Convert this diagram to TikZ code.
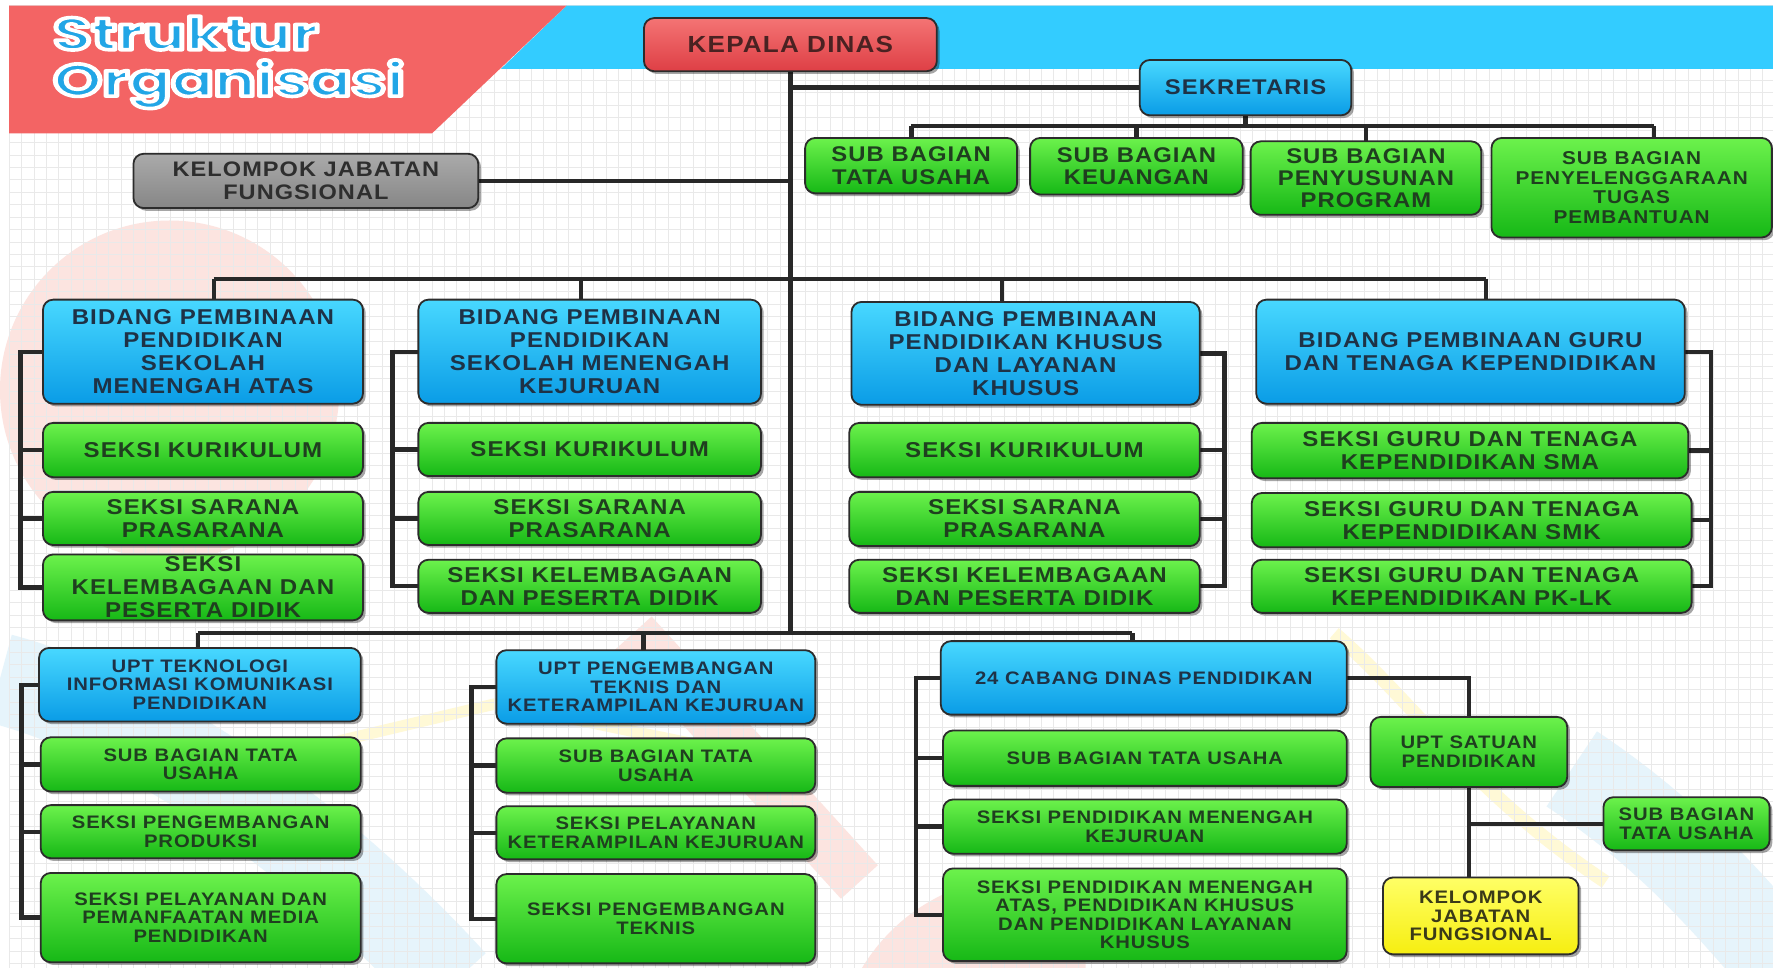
\documentclass[tikz,border=0pt]{standalone}
\usepackage{graphicx}
\usepackage{fontspec}
\setmainfont{Liberation Sans}
\newfontfamily\boxfont{Liberation Sans}[FakeStretch=1.12, LetterSpace=5]
\newfontfamily\titlefont{Poppins}
\usetikzlibrary{shadows}

\definecolor{gtop}{HTML}{6CF24C}
\definecolor{gbot}{HTML}{16B816}
\definecolor{btop}{HTML}{48D8FF}
\definecolor{bbot}{HTML}{0A9CE6}
\definecolor{rtop}{HTML}{F47474}
\definecolor{rbot}{HTML}{DE3F45}
\definecolor{ktop}{HTML}{AAAAAA}
\definecolor{kbot}{HTML}{868686}
\definecolor{ytop}{HTML}{FFFF66}
\definecolor{ybot}{HTML}{F6EE10}
\definecolor{gtext}{HTML}{1F3F1F}
\definecolor{btext}{HTML}{1E3246}
\definecolor{rtext}{HTML}{4A2222}
\definecolor{ktext}{HTML}{2E2E2E}
\definecolor{ytext}{HTML}{3A3A18}
\definecolor{edgec}{HTML}{2C2C2C}
\definecolor{wirec}{HTML}{282828}
\definecolor{banred}{HTML}{F36464}
\definecolor{banblue}{HTML}{33CCFF}
\definecolor{titleblue}{HTML}{22A6E6}
\definecolor{gridc}{HTML}{E9E9E9}
\definecolor{pinkdeco}{HTML}{FCE4E0}
\definecolor{bluedeco}{HTML}{E6F4FB}
\definecolor{yellowdeco}{HTML}{FFF9D6}

\pgfdeclarelayer{deco}
\pgfdeclarelayer{wires}
\pgfsetlayers{deco,wires,main}

\newcommand\obx[7]{%
  \pgfmathsetmacro\obw{((#4)-(#2))*0.5}%
  \pgfmathsetmacro\obh{((#5)-(#3))*0.5}%
  \node[#6, minimum width=\obw pt, minimum height=\obh pt] (#1) at ({((#2)+(#4))/2},{((#3)+(#5))/2}) {#7};%
}
\newcommand\outl[1]{\special{pdf:literal direct 2 Tr 1.6 w 1 j 1 1 1 RG}#1\special{pdf:literal direct 0 Tr}}

\begin{document}
\begin{tikzpicture}[x=0.5pt,y=-0.5pt,
  wire/.style={draw=wirec, line width=1.9pt},
  obox/.style={draw=edgec, line width=0.8pt, rounded corners=4.5pt, inner sep=1pt, outer sep=0pt, align=center,
    drop shadow={shadow xshift=1.2pt, shadow yshift=-1.2pt, opacity=0.35, fill=black}},
  gbox/.style={obox, top color=gtop, bottom color=gbot, text=gtext},
  bbox/.style={obox, top color=btop, bottom color=bbot, text=btext},
  rbox/.style={obox, top color=rtop, bottom color=rbot, text=rtext},
  kbox/.style={obox, top color=ktop, bottom color=kbot, text=ktext},
  ybox/.style={obox, top color=ytop, bottom color=ybot, text=ytext},
  ftop/.style={font=\boxfont\bfseries\fontsize{9.4}{9.8}\selectfont},
  fmid/.style={font=\boxfont\bfseries\fontsize{9.5}{10.2}\selectfont},
  fbot/.style={font=\boxfont\bfseries\fontsize{8}{8.2}\selectfont},
  fsmall/.style={font=\boxfont\bfseries\fontsize{8.2}{8.7}\selectfont},
  ttlstyle/.style={anchor=base west, inner sep=0pt, outer sep=0pt, text=titleblue, font=\titlefont\bfseries\fontsize{20}{20}\selectfont}
]
\useasboundingbox (0,0) rectangle (1568,856);

\begin{pgfonlayer}{deco}
  \fill[white] (0,0) rectangle (1568,856);
  % faint background decorations
  \fill[pinkdeco] (150,345) circle (75pt);
  \draw[bluedeco, line width=40pt] (0,600) .. controls (150,640) and (300,760) .. (400,870);
  \draw[pinkdeco, line width=22pt] (560,560) -- (760,780);
  \draw[yellowdeco, line width=5pt] (280,660) -- (440,622) -- (720,680);
  \draw[bluedeco, line width=40pt] (1390,680) .. controls (1480,740) and (1530,800) .. (1590,870);
  \draw[yellowdeco, line width=6pt] (1180,560) .. controls (1250,620) and (1300,700) .. (1420,780);
  \fill[pinkdeco] (760,860) .. controls (800,790) and (880,760) .. (960,780) -- (960,860) -- cycle;
  % grid
  \foreach \gx in {8,19,...,1568} \draw[gridc, line width=0.35pt] (\gx,5) -- (\gx,856);
  \foreach \gy in {5,16,...,856} \draw[gridc, line width=0.35pt] (8,\gy) -- (1568,\gy);
  % banners
  \fill[banblue] (501,5) -- (1568,5) -- (1568,61) -- (443,61) -- cycle;
  \fill[banred] (8,5) -- (501,5) -- (382,118) -- (8,118) -- cycle;
  % title
  \node[ttlstyle] (tstr) at (47,44) {\outl{\scalebox{1.38}[1]{Struktur}}};
  \node[ttlstyle] (torg) at (47,85) {\outl{\scalebox{1.38}[1]{Organisasi}}};
\end{pgfonlayer}

% ---------- boxes ----------
\obx{kepala}{569.5}{16}{828.5}{63}{rbox,font=\boxfont\bfseries\fontsize{10.3}{11}\selectfont}{KEPALA DINAS}
\obx{sek}{1008}{53}{1195}{102}{bbox,ftop}{SEKRETARIS}
\obx{sb1}{712}{122}{899.5}{171}{gbox,ftop}{SUB BAGIAN\\TATA USAHA}
\obx{sb2}{911}{122}{1099}{172}{gbox,ftop}{SUB BAGIAN\\KEUANGAN}
\obx{sb3}{1106}{125}{1310}{190}{gbox,ftop}{SUB BAGIAN\\PENYUSUNAN\\PROGRAM}
\obx{sb4}{1319}{122}{1567}{210}{gbox,fsmall}{SUB BAGIAN\\PENYELENGGARAAN\\TUGAS\\PEMBANTUAN}
\obx{kjf}{118}{136}{423}{184}{kbox,font=\boxfont\bfseries\fontsize{9.3}{10.3}\selectfont}{KELOMPOK JABATAN\\FUNGSIONAL}

\obx{b1}{38}{265}{321}{357}{bbox,fmid}{BIDANG PEMBINAAN\\PENDIDIKAN\\SEKOLAH\\MENENGAH ATAS}
\obx{s11}{38}{374}{321}{422}{gbox,fmid}{SEKSI KURIKULUM}
\obx{s12}{38}{435}{321}{482}{gbox,fmid}{SEKSI SARANA\\PRASARANA}
\obx{s13}{38}{491}{321}{548}{gbox,fmid}{SEKSI\\KELEMBAGAAN DAN\\PESERTA DIDIK}

\obx{b2}{370}{265}{673}{357}{bbox,fmid}{BIDANG PEMBINAAN\\PENDIDIKAN\\SEKOLAH MENENGAH\\KEJURUAN}
\obx{s21}{370}{374}{673}{421}{gbox,fmid}{SEKSI KURIKULUM}
\obx{s22}{370}{435}{673}{482}{gbox,fmid}{SEKSI SARANA\\PRASARANA}
\obx{s23}{370}{495}{673}{542}{gbox,fmid}{SEKSI KELEMBAGAAN\\DAN PESERTA DIDIK}

\obx{b3}{753}{267}{1061}{358}{bbox,fmid}{BIDANG PEMBINAAN\\PENDIDIKAN KHUSUS\\DAN LAYANAN\\KHUSUS}
\obx{s31}{751}{374}{1061}{422}{gbox,fmid}{SEKSI KURIKULUM}
\obx{s32}{751}{435}{1061}{483}{gbox,fmid}{SEKSI SARANA\\PRASARANA}
\obx{s33}{751}{495}{1061}{542}{gbox,fmid}{SEKSI KELEMBAGAAN\\DAN PESERTA DIDIK}

\obx{b4}{1111}{265}{1490}{357}{bbox,fmid}{BIDANG PEMBINAAN GURU\\DAN TENAGA KEPENDIDIKAN}
\obx{s41}{1107}{374}{1493}{423}{gbox,fmid}{SEKSI GURU DAN TENAGA\\KEPENDIDIKAN SMA}
\obx{s42}{1107}{436}{1496}{484}{gbox,fmid}{SEKSI GURU DAN TENAGA\\KEPENDIDIKAN SMK}
\obx{s43}{1107}{495}{1496}{542}{gbox,fmid}{SEKSI GURU DAN TENAGA\\KEPENDIDIKAN PK-LK}

\obx{u1}{34.5}{573}{319}{638}{bbox,fbot}{UPT TEKNOLOGI\\INFORMASI KOMUNIKASI\\PENDIDIKAN}
\obx{t11}{36}{652}{319}{700}{gbox,fbot}{SUB BAGIAN TATA\\USAHA}
\obx{t12}{36}{712}{319}{759}{gbox,fbot}{SEKSI PENGEMBANGAN\\PRODUKSI}
\obx{t13}{36}{772}{319}{851}{gbox,fbot}{SEKSI PELAYANAN DAN\\PEMANFAATAN MEDIA\\PENDIDIKAN}

\obx{u2}{439}{575}{721}{640}{bbox,fbot}{UPT PENGEMBANGAN\\TEKNIS DAN\\KETERAMPILAN KEJURUAN}
\obx{t21}{439}{653}{721}{701}{gbox,fbot}{SUB BAGIAN TATA\\USAHA}
\obx{t22}{439}{713}{721}{760}{gbox,fbot}{SEKSI PELAYANAN\\KETERAMPILAN KEJURUAN}
\obx{t23}{439}{773}{721}{852}{gbox,fbot}{SEKSI PENGEMBANGAN\\TEKNIS}

\obx{cb}{832}{567}{1191}{632}{bbox,fbot}{24 CABANG DINAS PENDIDIKAN}
\obx{t31}{834}{646}{1191}{695}{gbox,fbot}{SUB BAGIAN TATA USAHA}
\obx{t32}{834}{707}{1191}{755}{gbox,fbot}{SEKSI PENDIDIKAN MENENGAH\\KEJURUAN}
\obx{t33}{834}{768}{1191}{850}{gbox,fbot}{SEKSI PENDIDIKAN MENENGAH\\ATAS, PENDIDIKAN KHUSUS\\DAN PENDIDIKAN LAYANAN\\KHUSUS}

\obx{us}{1212}{634}{1386}{696}{gbox,fbot}{UPT SATUAN\\PENDIDIKAN}
\obx{sbt}{1418}{705}{1565}{752}{gbox,fbot}{SUB BAGIAN\\TATA USAHA}
\obx{ykjf}{1223}{776}{1396}{844}{ybox,fbot}{KELOMPOK\\JABATAN\\FUNGSIONAL}

% ---------- connectors ----------
\begin{pgfonlayer}{wires}
  \coordinate (mainbot) at (699,560);
  \draw[wire] (kepala.south) -- (mainbot);
  \draw[wire] (kepala.south |- sek.west) -- (sek.west);
  \draw[wire] (kjf.east) -- (kepala.south |- kjf.east);

  \coordinate (sbusL) at (806,111.5);
  \coordinate (sbusR) at (1463,111.5);
  \draw[wire] (sek.south) -- (sek.south |- sbusL);
  \draw[wire] (sbusL) -- (sbusR);
  \draw[wire] (sbusL) -- (sbusL |- sb1.north);
  \draw[wire] (sb2.north |- sbusL) -- (sb2.north);
  \draw[wire] (sb3.north |- sbusL) -- (sb3.north);
  \draw[wire] (sbusR) -- (sbusR |- sb4.north);

  \coordinate (bbusL) at (189,246.5);
  \coordinate (bbusR) at (1314,246.5);
  \coordinate (bd2) at (514,246.5);
  \coordinate (bd3) at (886,246.5);
  \draw[wire] (bbusL) -- (bbusR);
  \draw[wire] (bbusL) -- (bbusL |- b1.north);
  \draw[wire] (bd2) -- (bd2 |- b2.north);
  \draw[wire] (bd3) -- (bd3 |- b3.north);
  \draw[wire] (bbusR) -- (bbusR |- b4.north);

  \coordinate (k1) at (18,0);
  \draw[wire] (b1.west) -- (b1.west -| k1) -- (k1 |- s13.west) -- (s13.west);
  \draw[wire] (k1 |- s11.west) -- (s11.west);
  \draw[wire] (k1 |- s12.west) -- (s12.west);
  \coordinate (k2) at (347,0);
  \draw[wire] (b2.west) -- (b2.west -| k2) -- (k2 |- s23.west) -- (s23.west);
  \draw[wire] (k2 |- s21.west) -- (s21.west);
  \draw[wire] (k2 |- s22.west) -- (s22.west);
  \coordinate (k3) at (1083,0);
  \draw[wire] (b3.east) -- (b3.east -| k3) -- (k3 |- s33.east) -- (s33.east);
  \draw[wire] (k3 |- s31.east) -- (s31.east);
  \draw[wire] (k3 |- s32.east) -- (s32.east);
  \coordinate (k4) at (1513,0);
  \draw[wire] (b4.east) -- (b4.east -| k4) -- (k4 |- s43.east) -- (s43.east);
  \draw[wire] (k4 |- s41.east) -- (s41.east);
  \draw[wire] (k4 |- s42.east) -- (s42.east);

  \coordinate (ubusL) at (175,560);
  \coordinate (ubusR) at (1001.5,560);
  \coordinate (ud2) at (569,560);
  \draw[wire] (ubusL) -- (ubusR);
  \draw[wire] (ubusL) -- (ubusL |- u1.north);
  \draw[wire] (ud2) -- (ud2 |- u2.north);
  \draw[wire] (ubusR) -- (ubusR |- cb.north);

  \coordinate (k5) at (19,0);
  \draw[wire] (u1.west) -- (u1.west -| k5) -- (k5 |- t13.west) -- (t13.west);
  \draw[wire] (k5 |- t11.west) -- (t11.west);
  \draw[wire] (k5 |- t12.west) -- (t12.west);
  \coordinate (k6) at (417,0);
  \draw[wire] (u2.west) -- (u2.west -| k6) -- (k6 |- t23.west) -- (t23.west);
  \draw[wire] (k6 |- t21.west) -- (t21.west);
  \draw[wire] (k6 |- t22.west) -- (t22.west);
  \coordinate (k7) at (810,0);
  \draw[wire] (cb.west) -- (cb.west -| k7) -- (k7 |- t33.west) -- (t33.west);
  \draw[wire] (k7 |- t31.west) -- (t31.west);
  \draw[wire] (k7 |- t32.west) -- (t32.west);

  \draw[wire] (cb.east) -| (us.north);
  \draw[wire] (us.south) -- (us.south |- ykjf.north);
  \draw[wire] (us.south |- sbt.west) -- (sbt.west);
\end{pgfonlayer}
\end{tikzpicture}
\end{document}
